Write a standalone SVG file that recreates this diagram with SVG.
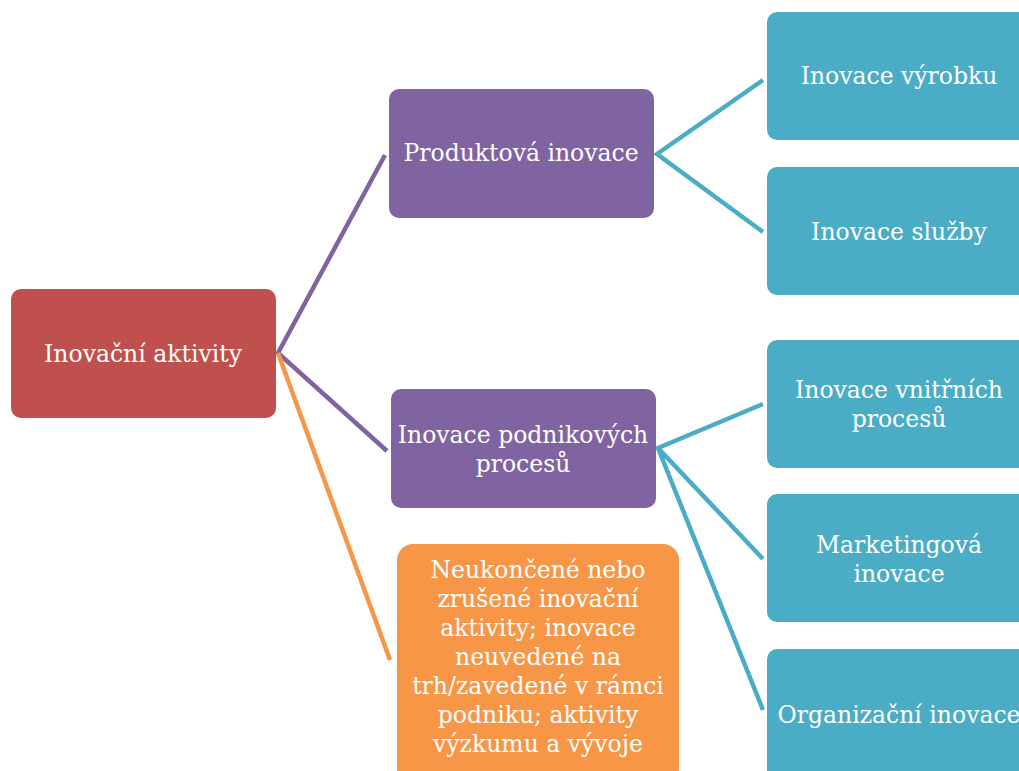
<svg xmlns="http://www.w3.org/2000/svg" width="1019" height="771" viewBox="0 0 1019 771">
<style>
text{font-family:"DejaVu Serif","Liberation Serif",serif;font-size:23.5px;fill:#fff;text-anchor:middle}
.c{fill:none;stroke-width:4.5}
.red{fill:#C0504D}.pur{fill:#8064A2}.ora{fill:#F79646}.tea{fill:#4BACC6}
</style>
<rect width="1019" height="771" fill="#fff"/>
<g id="connectors">
<path class="c" stroke="#8064A2" d="M385,155 L278,353 L387,451"/>
<path class="c" stroke="#F79646" d="M278,353 L390,660"/>
<path class="c" stroke="#4BACC6" d="M763,80 L657,154 L763,232"/>
<path class="c" stroke="#4BACC6" d="M763,404 L658,448 L763,559 M658,448 L763,710"/>
</g>
<g id="n-root"><rect class="red" x="11" y="289" width="265" height="129" rx="10"/><text x="143" y="362">Inovační aktivity</text></g>
<g id="n-prod"><rect class="pur" x="389" y="89" width="265" height="129" rx="10"/><text x="521" y="161">Produktová inovace</text></g>
<g id="n-proc"><rect class="pur" x="391" y="389" width="265" height="119" rx="10"/><text x="523" y="443">Inovace podnikových</text><text x="523" y="472">procesů</text></g>
<g id="n-other"><rect class="ora" x="397" y="544" width="282" height="240" rx="16"/>
<text x="538" y="578">Neukončené nebo</text><text x="538" y="607">zrušené inovační</text><text x="538" y="636">aktivity; inovace</text><text x="538" y="665">neuvedené na</text><text x="538" y="694">trh/zavedené v rámci</text><text x="538" y="723">podniku; aktivity</text><text x="538" y="752">výzkumu a vývoje</text></g>
<g id="n-t1"><rect class="tea" x="767" y="12" width="270" height="128" rx="10"/><text x="899" y="84">Inovace výrobku</text></g>
<g id="n-t2"><rect class="tea" x="767" y="167" width="270" height="128" rx="10"/><text x="899" y="240">Inovace služby</text></g>
<g id="n-t3"><rect class="tea" x="767" y="340" width="270" height="128" rx="10"/><text x="899" y="398">Inovace vnitřních</text><text x="899" y="427">procesů</text></g>
<g id="n-t4"><rect class="tea" x="767" y="494" width="270" height="128" rx="10"/><text x="899" y="553">Marketingová</text><text x="899" y="582">inovace</text></g>
<g id="n-t5"><rect class="tea" x="767" y="649" width="270" height="140" rx="10"/><text x="899" y="723">Organizační inovace</text></g>
</svg>
